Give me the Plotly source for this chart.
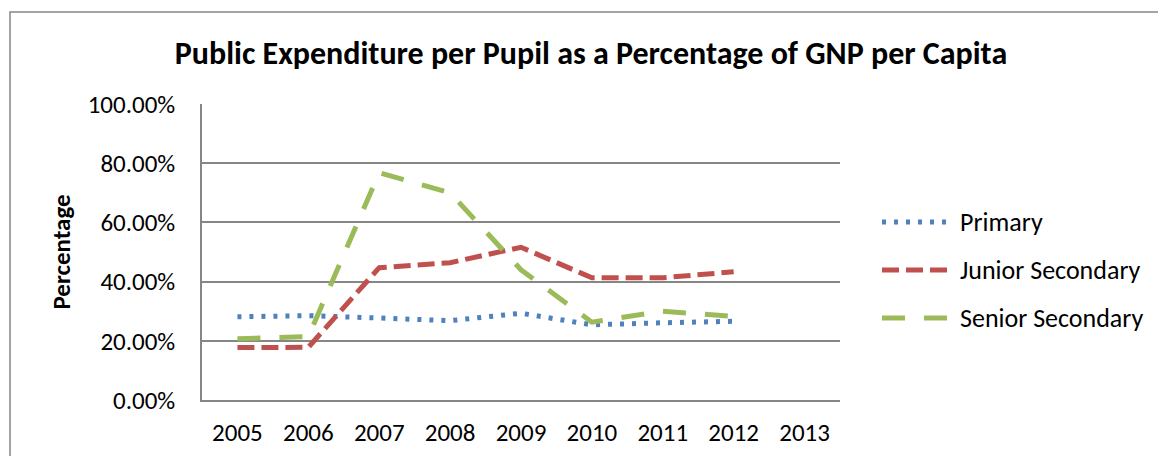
import plotly.graph_objects as go

# Expenditure per pupil as a share of GNP per capita, by school level
years = ["2005", "2006", "2007", "2008", "2009", "2010", "2011", "2012", "2013"]
primary = [0.281, 0.285, 0.277, 0.268, 0.293, 0.254, 0.261, 0.266]
junior_secondary = [0.177, 0.178, 0.447, 0.464, 0.516, 0.413, 0.413, 0.433]
senior_secondary = [0.207, 0.214, 0.768, 0.700, 0.440, 0.263, 0.300, 0.282]

series_names = ["Primary", "Junior Secondary", "Senior Secondary"]
series_colors = ["#4F81BD", "#C0504D", "#9BBB59"]
series_dashes = ["4px,8px", "17px,7px", "23px,19px"]
series_values = [primary, junior_secondary, senior_secondary]

FONT = "Carlito, Calibri, Lato, sans-serif"
GRID = "#868686"

W, H = 1158, 456
L, R, T, B = 202, 318, 104, 56
pw, ph = W - L - R, H - T - B


def px_x(x):
    return (x - L) / pw


def px_y(y):
    return (H - B - y) / ph


fig = go.Figure()
for name, vals, col, dash in zip(series_names, series_values, series_colors, series_dashes):
    fig.add_trace(go.Scatter(
        x=years[:len(vals)], y=vals, name=name, mode="lines",
        line=dict(color=col, width=5, dash=dash),
        showlegend=False,
    ))

shapes = [
    # chart frame
    dict(type="rect", xref="paper", yref="paper",
         x0=px_x(10), x1=px_x(W + 20), y0=px_y(H + 20), y1=px_y(12),
         line=dict(color=GRID, width=1.5), fillcolor="rgba(0,0,0,0)", layer="below"),
]
annotations = []

# legend entries
legend_rows = [222, 270, 318]
for name, col, dash, yy in zip(series_names, series_colors, series_dashes, legend_rows):
    shapes.append(dict(type="line", xref="paper", yref="paper",
                       x0=px_x(882), x1=px_x(948), y0=px_y(yy), y1=px_y(yy),
                       line=dict(color=col, width=5, dash=dash)))
    annotations.append(dict(text=name, xref="paper", yref="paper",
                            x=px_x(958), y=px_y(yy), xanchor="left", yanchor="middle",
                            showarrow=False, font=dict(family=FONT, size=26, color="#000000")))

fig.update_layout(
    width=W, height=H,
    margin=dict(l=L, r=R, t=T, b=B, pad=0, autoexpand=False),
    paper_bgcolor="white", plot_bgcolor="white",
    title=dict(text="<b>Public Expenditure per Pupil as a Percentage of GNP per Capita</b>",
               x=591 / W, xanchor="center",
               y=1 - 53 / H, yanchor="middle", xref="container", yref="container",
               font=dict(family=FONT, size=32, color="#000000")),
    font=dict(family=FONT, size=25, color="#000000"),
    shapes=shapes,
    annotations=annotations,
    showlegend=False,
)

fig.update_xaxes(
    type="category", categoryorder="array", categoryarray=years,
    range=[-0.5, len(years) - 0.5],
    showgrid=False, showline=True, linecolor=GRID, linewidth=1.5,
    ticks="", ticklabelstandoff=9, automargin=False,
    tickfont=dict(family=FONT, size=25, color="#000000"),
    zeroline=False,
)
fig.update_yaxes(
    range=[0, 1], dtick=0.2, tick0=0, tickformat=".2%",
    showgrid=True, gridcolor=GRID, gridwidth=1.5,
    showline=True, linecolor=GRID, linewidth=1.5,
    ticks="", ticklabelstandoff=20, automargin=False,
    tickfont=dict(family=FONT, size=25, color="#000000"),
    zeroline=False,
    title=dict(text="<b>Percentage</b>", font=dict(family=FONT, size=25, color="#000000"),
               standoff=10),
)

fig.write_html("out.html")
